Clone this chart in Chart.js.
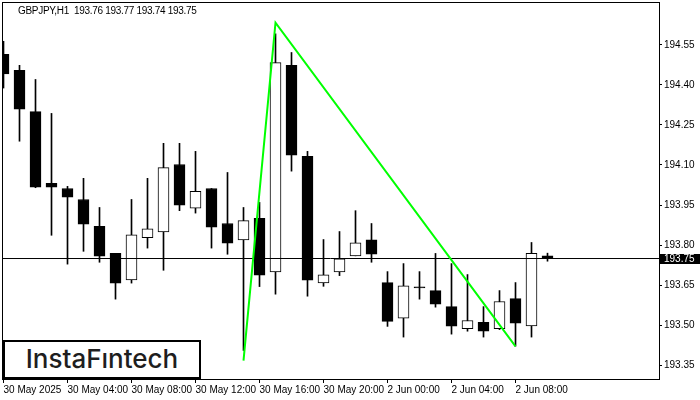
<!DOCTYPE html>
<html>
<head>
<meta charset="utf-8">
<script src="https://cdn.jsdelivr.net/npm/chart.js@4.4.1/dist/chart.umd.min.js"></script>
<style>
    body { margin: 0; background: #fff; }
    #wrap { position: relative; width: 700px; height: 400px; }
    #title {
        position: absolute; left: 18px; top: 5px;
        font: 10px "Liberation Sans", Arial, sans-serif; line-height: 12px;
        color: #000; white-space: pre; letter-spacing: -0.3px;
    }
    #logo {
        position: absolute; left: 3px; top: 340px; width: 198px; height: 39px;
        box-sizing: border-box; border: 2px solid #000; background: #fff;
        font: 500 26px Inter, "Open Sans", sans-serif; color: #1e1e1e;
        text-align: center; line-height: 34px;
    }
</style>
</head>
<body>
<div id="wrap">
    <canvas id="graph" width="700" height="400"></canvas>
    <div id="title">GBPJPY,H1  193.76 193.77 193.74 193.75</div>
    <div id="logo">InstaFıntech</div>
</div>
<script>
// hourly candles, 30 May 00:00 .. 2 Jun 10:00 (index = bar number)
var opens  = [194.514, 194.454, 194.300, 194.031, 194.012, 193.971, 193.870, 193.769, 193.670, 193.828,
              193.850, 194.102, 193.938, 194.012, 193.881, 193.820, 193.900, 193.700, 194.473, 194.132,
              193.659, 193.700, 193.760, 193.820, 193.660, 193.527, 193.640, 193.630, 193.570, 193.487,
              193.511, 193.487, 193.600, 193.498, 193.76];
var highs  = [194.563, 194.473, 194.420, 194.293, 194.020, 194.050, 193.941, 193.769, 193.971, 194.050,
              194.181, 194.181, 194.151, 194.012, 194.072, 193.941, 193.960, 194.591, 194.521, 194.151,
              193.821, 193.851, 193.929, 193.881, 193.701, 193.731, 193.701, 193.769, 193.731, 193.690,
              193.570, 193.630, 193.660, 193.810, 193.77];
var lows   = [194.388, 194.189, 194.015, 193.837, 193.729, 193.777, 193.736, 193.598, 193.658, 193.789,
              193.706, 193.929, 193.920, 193.789, 193.766, 193.406, 193.645, 193.617, 194.077, 193.609,
              193.646, 193.686, 193.760, 193.736, 193.496, 193.456, 193.598, 193.568, 193.467, 193.478,
              193.456, 193.484, 193.422, 193.456, 193.74];
var closes = [194.441, 194.309, 194.017, 194.017, 193.980, 193.879, 193.759, 193.658, 193.839, 193.861,
              194.090, 193.950, 194.001, 193.867, 193.807, 193.892, 193.688, 194.483, 194.137, 193.669,
              193.689, 193.749, 193.809, 193.766, 193.515, 193.648, 193.640, 193.579, 193.497, 193.518,
              193.478, 193.589, 193.508, 193.769, 193.75];

var xTickIdx = [0, 4, 8, 12, 16, 20, 24, 28, 32];
var xLabels = ["30 May 2025", "30 May 04:00", "30 May 08:00", "30 May 12:00", "30 May 16:00",
               "30 May 20:00", "2 Jun 00:00", "2 Jun 04:00", "2 Jun 08:00"];
var yTicks = [193.35, 193.50, 193.65, 193.80, 193.95, 194.10, 194.25, 194.40, 194.55];

var lastPrice = 193.75;
var patternX = [15, 17, 32];
var patternY = [193.368, 194.633, 193.421];

var xMin = -0.09375, xMax = 40.96875;
var yMin = 193.2991, yMax = 194.7100;

var wicks = [], bodies = [], bodyColors = [];
for (var i = 0; i < opens.length; i++) {
    wicks.push({x: i, y: [lows[i], highs[i]]});
    bodies.push({x: i, y: [opens[i], closes[i]]});
    bodyColors.push(closes[i] > opens[i] ? "#ffffff" : "#000000");
}

var framePlugin = {
    id: "frame",
    afterDraw: function (chart) {
        var ctx = chart.ctx, a = chart.chartArea;
        ctx.save();
        ctx.strokeStyle = "#000";
        ctx.lineWidth = 1;
        ctx.strokeRect(a.left + 0.5, a.top + 0.5, a.right - a.left, a.bottom - a.top);
        // current price tag
        var y = chart.scales.y.getPixelForValue(lastPrice);
        ctx.fillStyle = "#000";
        ctx.fillRect(a.right + 1, Math.round(y) - 5, 700 - a.right, 10);
        ctx.fillStyle = "#fff";
        ctx.font = "10px 'Liberation Sans', Arial, sans-serif";
        ctx.textBaseline = "middle";
        ctx.fillText(lastPrice.toFixed(2), a.right + 5, Math.round(y) + 0.5);
        ctx.restore();
    }
};

Chart.defaults.font.family = "'Liberation Sans', Arial, sans-serif";
Chart.defaults.font.size = 10;
Chart.defaults.color = "#000";

new Chart(document.getElementById("graph").getContext("2d"), {
    type: "bar",
    data: {
        datasets: [{
            type: "line",
            data: patternX.map(function (x, k) { return {x: x, y: patternY[k]}; }),
            borderColor: "#00ff00",
            borderWidth: 2,
            pointRadius: 0,
            tension: 0,
            order: 0
        }, {
            type: "line",
            data: [{x: xMin, y: lastPrice}, {x: xMax, y: lastPrice}],
            borderColor: "#000",
            borderWidth: 1,
            pointRadius: 0,
            order: 1
        }, {
            data: bodies,
            backgroundColor: bodyColors,
            borderColor: "#000",
            borderWidth: 1,
            borderSkipped: false,
            barThickness: 11,
            minBarLength: 1,
            grouped: false,
            order: 2
        }, {
            data: wicks,
            backgroundColor: "#000",
            borderWidth: 0,
            barThickness: 1,
            grouped: false,
            order: 3
        }]
    },
    options: {
        responsive: false,
        animation: false,
        devicePixelRatio: 1,
        layout: {padding: {left: 2, top: 2, right: 0, bottom: 0}},
        plugins: {legend: {display: false}, tooltip: {enabled: false}},
        scales: {
            x: {
                type: "linear",
                offset: false,
                min: xMin,
                max: xMax,
                afterBuildTicks: function (scale) {
                    scale.ticks = xTickIdx.map(function (v) { return {value: v}; });
                },
                afterFit: function (scale) {
                    scale.height = 21;
                    scale.paddingLeft = 0;
                    scale.paddingRight = 0;
                },
                ticks: {
                    autoSkip: false,
                    maxRotation: 0,
                    align: "start",
                    padding: 1,
                    callback: function (v, idx) { return xLabels[idx]; }
                },
                grid: {drawOnChartArea: false, drawTicks: true, tickLength: 4, color: "#000", offset: false},
                border: {display: false}
            },
            y: {
                position: "right",
                min: yMin,
                max: yMax,
                afterBuildTicks: function (scale) {
                    scale.ticks = yTicks.map(function (v) { return {value: v}; });
                },
                afterFit: function (scale) {
                    scale.width = 41;
                    scale.paddingTop = 0;
                    scale.paddingBottom = 0;
                },
                ticks: {
                    padding: 2,
                    callback: function (v) { return v.toFixed(2); }
                },
                grid: {drawOnChartArea: false, drawTicks: true, tickLength: 3, color: "#000"},
                border: {display: false}
            }
        }
    },
    plugins: [framePlugin]
});
</script>
</body>
</html>
